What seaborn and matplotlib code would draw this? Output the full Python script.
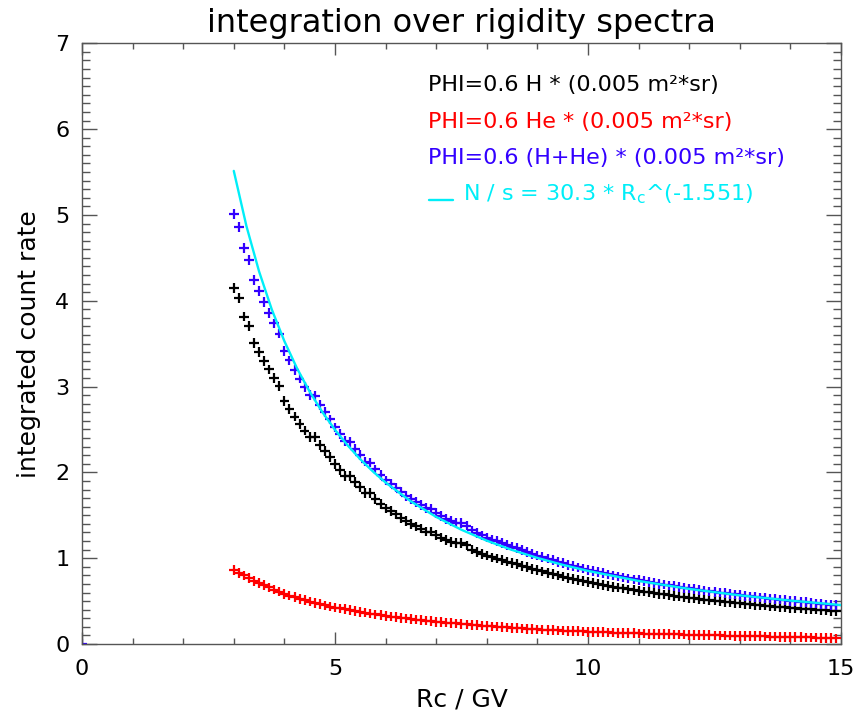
import numpy as np
import pandas as pd
import seaborn as sns
import matplotlib.pyplot as plt
from matplotlib.ticker import MultipleLocator

# rigidity grid of the integrated spectra (GV)
rc = np.round(np.arange(30, 150) / 10.0, 1)

# integrated count rate, protons
h_rate = [
    4.146, 4.03, 3.815, 3.706, 3.505, 3.40, 3.30, 3.20, 3.10, 3.007,
    2.832, 2.74, 2.65, 2.564, 2.486, 2.41, 2.41, 2.32, 2.25, 2.18,
    2.10, 2.03, 1.96, 1.96, 1.89, 1.83, 1.76, 1.76, 1.69, 1.63,
    1.58, 1.55, 1.51, 1.47, 1.43, 1.40, 1.37, 1.345, 1.31, 1.31,
    1.27, 1.24, 1.21, 1.19, 1.175, 1.174, 1.15, 1.10, 1.07, 1.05,
    1.03, 1.01, 0.995, 0.98, 0.96, 0.945, 0.93, 0.91, 0.895, 0.875,
    0.86, 0.845, 0.83, 0.815, 0.80, 0.785, 0.77, 0.757, 0.745, 0.733,
    0.722, 0.71, 0.70, 0.688, 0.677, 0.667, 0.657, 0.647, 0.637, 0.628,
    0.619, 0.611, 0.603, 0.594, 0.585, 0.577, 0.569, 0.561, 0.553, 0.546,
    0.539, 0.532, 0.525, 0.518, 0.511, 0.505, 0.499, 0.493, 0.487, 0.481,
    0.475, 0.469, 0.463, 0.457, 0.452, 0.447, 0.442, 0.437, 0.432, 0.427,
    0.422, 0.418, 0.413, 0.409, 0.404, 0.40, 0.396, 0.392, 0.388, 0.385,
]

# integrated count rate, helium
he_rate = [
    0.862, 0.83, 0.80, 0.77, 0.735, 0.71, 0.685, 0.66, 0.635, 0.61,
    0.585, 0.565, 0.545, 0.528, 0.51, 0.495, 0.48, 0.465, 0.45, 0.437,
    0.425, 0.415, 0.405, 0.395, 0.385, 0.375, 0.365, 0.355, 0.345, 0.336,
    0.327, 0.32, 0.312, 0.305, 0.298, 0.291, 0.285, 0.278, 0.272, 0.266,
    0.26, 0.255, 0.25, 0.244, 0.239, 0.234, 0.229, 0.224, 0.22, 0.215,
    0.21, 0.206, 0.202, 0.198, 0.194, 0.19, 0.186, 0.182, 0.178, 0.175,
    0.171, 0.168, 0.165, 0.162, 0.159, 0.156, 0.153, 0.151, 0.148, 0.146,
    0.143, 0.141, 0.139, 0.137, 0.135, 0.133, 0.131, 0.129, 0.127, 0.125,
    0.124, 0.122, 0.12, 0.118, 0.117, 0.115, 0.114, 0.112, 0.111, 0.109,
    0.108, 0.106, 0.105, 0.104, 0.102, 0.101, 0.10, 0.098, 0.097, 0.096,
    0.095, 0.093, 0.092, 0.091, 0.09, 0.088, 0.087, 0.086, 0.085, 0.083,
    0.082, 0.08, 0.079, 0.077, 0.076, 0.074, 0.072, 0.07, 0.068, 0.066,
]

fit_rc = [3.0, 3.25, 3.5, 3.75, 4.0, 4.25, 4.5, 4.75, 5.0, 5.25, 5.5, 5.75,
          6.0, 6.5, 7.0, 7.5, 8.0, 8.5, 9.0, 9.5, 10.0, 11.0, 12.0, 13.0,
          14.0, 15.0]
fit_rate = [5.513, 4.870, 4.341, 3.900, 3.529, 3.212, 2.940, 2.703, 2.496,
            2.315, 2.153, 2.010, 1.882, 1.662, 1.481, 1.331, 1.204, 1.096,
            1.003, 0.923, 0.852, 0.735, 0.642, 0.567, 0.506, 0.454]

legend_lines = [
    ("PHI=0.6 H * (0.005 m\u00b2*sr)", "black"),
    ("PHI=0.6 He * (0.005 m\u00b2*sr)", "#ff0000"),
    ("PHI=0.6 (H+He) * (0.005 m\u00b2*sr)", "#3300ff"),
]
fit_label = "N / s = 30.3 * R$_\\mathrm{c}$^(-1.551)"

sum_rate = [a + b for a, b in zip(h_rate, he_rate)]

df = pd.DataFrame({
    "rc": np.concatenate([rc, rc, rc]),
    "rate": h_rate + he_rate + sum_rate,
    "series": ["H"] * len(rc) + ["He"] * len(rc) + ["H+He"] * len(rc),
})
fit_df = pd.DataFrame({"rc": fit_rc, "rate": fit_rate})

sns.set_style("ticks")
plt.rcParams["font.family"] = ["DejaVu Sans"]
plt.rcParams["text.color"] = "black"
plt.rcParams["axes.labelcolor"] = "black"
plt.rcParams["xtick.color"] = "black"
plt.rcParams["ytick.color"] = "black"

fig = plt.figure(figsize=(8.61, 7.19), dpi=100)
ax = fig.add_axes([0.0952, 0.1043, 0.8816, 0.8355])

cyan = "#00eef8"
palette = {"H": "black", "He": "#ff0000", "H+He": "#3300ff"}
sns.scatterplot(data=df, x="rc", y="rate", hue="series", palette=palette,
                marker="+", s=48, linewidth=1.6, legend=False, ax=ax, zorder=3)
sns.lineplot(data=fit_df, x="rc", y="rate", color=cyan, linewidth=1.7,
             ax=ax, zorder=4)
# stray zero point at the origin
ax.scatter([0], [0], marker="+", s=48, linewidths=1.6, color="#3300ff", zorder=2)

ax.set_xlim(0, 15)
ax.set_ylim(0, 7)
ax.xaxis.set_major_locator(MultipleLocator(5))
ax.xaxis.set_minor_locator(MultipleLocator(1))
ax.yaxis.set_major_locator(MultipleLocator(1))
ax.yaxis.set_minor_locator(MultipleLocator(0.1))

for s in ax.spines.values():
    s.set_color("#555555")
    s.set_linewidth(1.0)
ax.tick_params(which="both", direction="in", top=True, right=True,
               bottom=True, left=True, color="#555555", width=1.0,
               labelsize=16, labelcolor="black")
ax.tick_params(axis="x", which="major", length=8.5, pad=11)
ax.tick_params(axis="x", which="minor", length=4.5)
ax.tick_params(axis="y", which="major", length=10.5, pad=9)
ax.tick_params(axis="y", which="minor", length=5.5)

ax.set_xlabel("Rc / GV", fontsize=18, labelpad=6)
ax.set_ylabel("integrated count rate", fontsize=18, labelpad=10)
ax.set_title("integration over rigidity spectra", fontsize=23, pad=8)

ys = [0.9206, 0.8598, 0.7991]
for (txt, col), yy in zip(legend_lines, ys):
    ax.text(0.456, yy, txt, color=col, fontsize=16, va="baseline",
            ha="left", transform=ax.transAxes)
ax.plot([0.457, 0.489], [0.7385, 0.7385], color=cyan, linewidth=1.7,
        transform=ax.transAxes)
ax.text(0.502, 0.7383, fit_label, color=cyan, fontsize=16,
        va="baseline", ha="left", transform=ax.transAxes)

fig.savefig("out.png", dpi=100)
